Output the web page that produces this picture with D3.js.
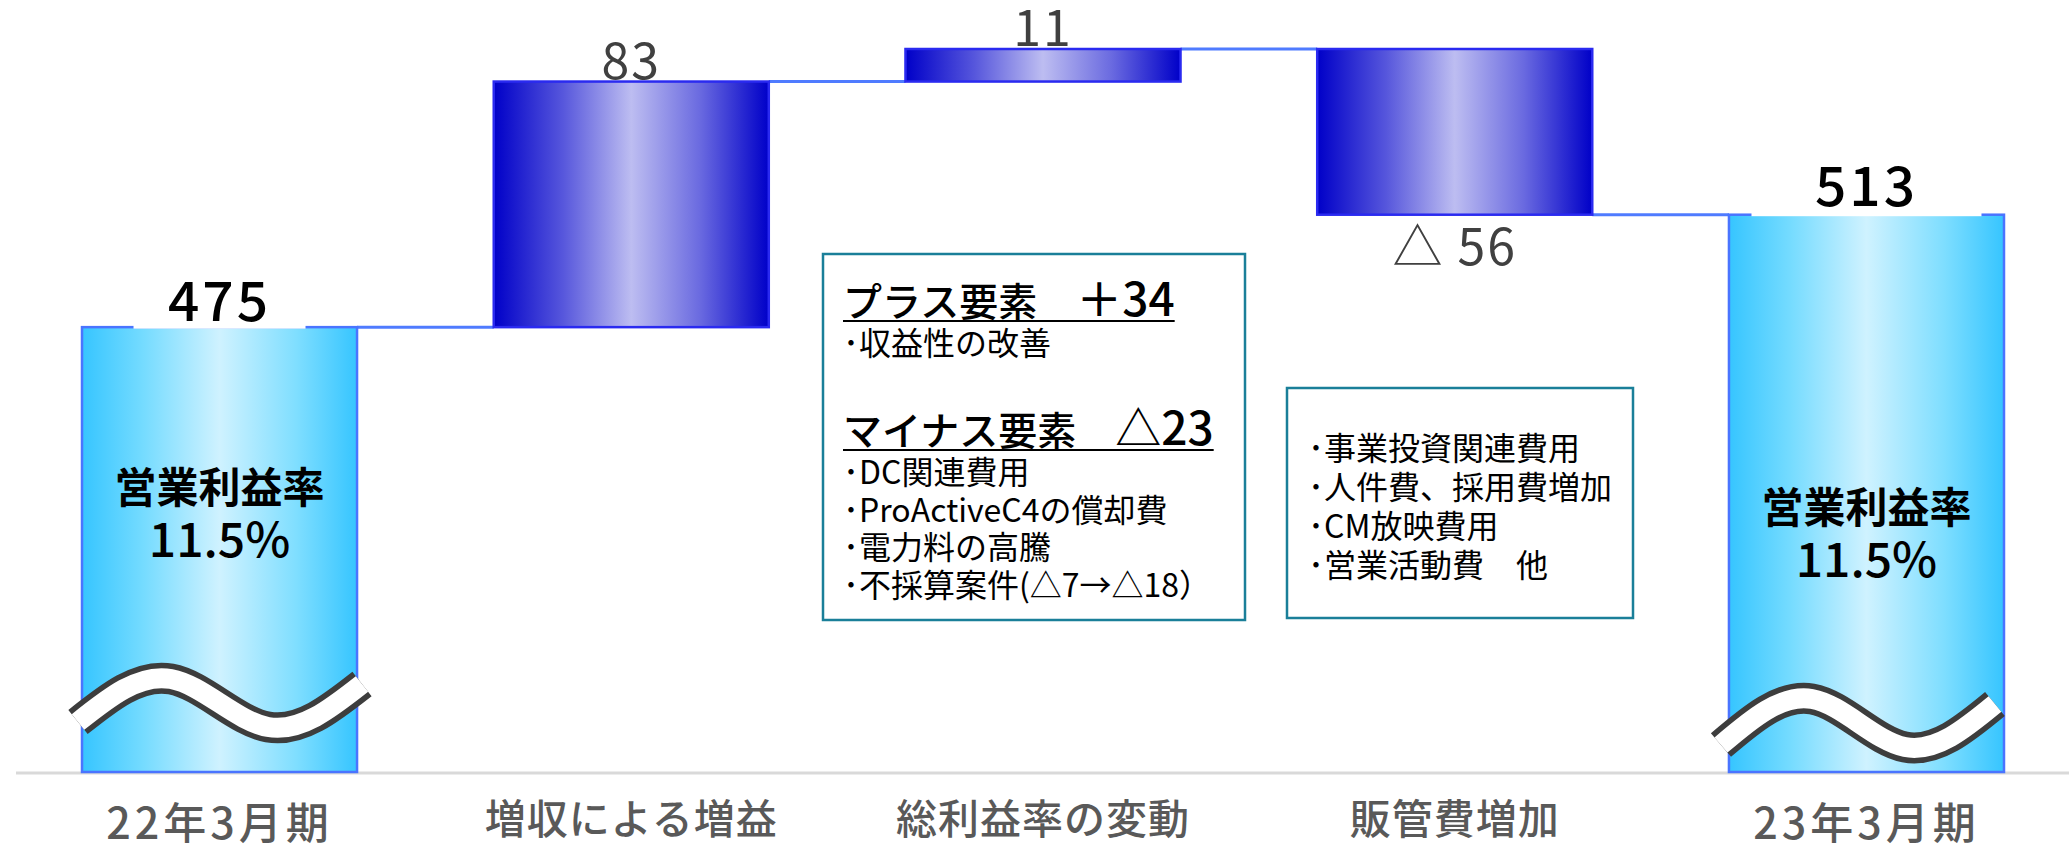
<!DOCTYPE html>
<html>
<head>
<meta charset="utf-8">
<script src="https://cdn.jsdelivr.net/npm/d3@7"></script>
<style>
  html, body { margin: 0; padding: 0; background: #ffffff; }
  svg { display: block; font-family: "Noto Sans CJK JP", "Noto Sans", sans-serif; }
</style>
</head>
<body>
<svg id="chart" width="2069" height="850"></svg>
<script>
// ---------------- data ----------------
const categories = ["22年3月期", "増収による増益", "総利益率の変動", "販管費増加", "23年3月期"];
const values = [475, 83, 11, -56, 513];
const barTypes = ["total", "delta", "delta", "delta", "total"];
const valueLabels = ["475", "83", "11", "△ 56", "513"];
const axisFloor = 325;               // value at the (broken) baseline
const marginTitle = "営業利益率";
const marginValues = ["11.5%", null, null, null, "11.5%"];
const plusHeading = ["プラス要素　", "＋34"];
const plusItems = ["収益性の改善"];
const minusHeading = ["マイナス要素　", "△23"];
const minusItems = ["DC関連費用", "ProActiveC4の償却費", "電力料の高騰", "不採算案件(△7→△18）"];
const sgaItems = ["事業投資関連費用", "人件費、採用費増加", "CM放映費用", "営業活動費　他"];

// ---------------- layout ----------------
const svg = d3.select("#chart");
const W = 2069, H = 850;
const baseY = 772;

// waterfall running totals
let run = 0;
const bars = categories.map((c, i) => {
  let start, end;
  if (barTypes[i] === "total") {
    start = axisFloor; end = values[i]; run = values[i];
  } else {
    start = run; end = run + values[i]; run = end;
  }
  return { cat: c, i, type: barTypes[i], start, end, lo: Math.min(start, end), hi: Math.max(start, end), v: values[i] };
});
const maxTop = d3.max(bars, d => d.hi);

const x = d3.scaleBand().domain(categories).range([82, 2004]).paddingInner(0.332).paddingOuter(0);
const y = d3.scaleLinear().domain([axisFloor, maxTop]).range([baseY - 1, 49]);

// gradients
const defs = svg.append("defs");
function grad(id, stops) {
  const g = defs.append("linearGradient").attr("id", id).attr("x1", "0%").attr("x2", "100%").attr("y1", "0%").attr("y2", "0%");
  stops.forEach(s => g.append("stop").attr("offset", s[0]).attr("stop-color", s[1]));
}
grad("gTotal", [[0, "#36c5ff"], [0.22, "#74dbff"], [0.5, "#cff2ff"], [0.78, "#7fdeff"], [1, "#36c5ff"]]);
grad("gDelta", [[0, "#0000c8"], [0.25, "#5656dc"], [0.5, "#bdbdf1"], [0.75, "#6a6ae0"], [1, "#0000c8"]]);

// axis baseline
svg.append("line").attr("x1", 16).attr("x2", W).attr("y1", baseY + 1).attr("y2", baseY + 1)
  .attr("stroke", "#d9d9d9").attr("stroke-width", 3);

// connectors
const conn = svg.append("g");
for (let i = 0; i < bars.length - 1; i++) {
  const a = bars[i], b = bars[i + 1];
  conn.append("line")
    .attr("x1", x(a.cat) + x.bandwidth()).attr("x2", x(b.cat))
    .attr("y1", y(a.end)).attr("y2", y(a.end))
    .attr("stroke", "#4f7bff").attr("stroke-width", 3);
}

// bars
svg.append("g").selectAll("rect").data(bars).join("rect")
  .attr("x", d => x(d.cat))
  .attr("y", d => y(d.hi))
  .attr("width", x.bandwidth())
  .attr("height", d => d.type === "total" ? baseY - y(d.hi) : y(d.lo) - y(d.hi))
  .attr("fill", d => d.type === "total" ? "url(#gTotal)" : "url(#gDelta)")
  .attr("stroke", d => d.type === "total" ? "#4a74ff" : "#2a2af0")
  .attr("stroke-width", 2.5);

// break symbols on total bars
const waveShapes = {
  0: [[-4, -50], [89, -93], [186, -45], [280, -88]],
  4: [[-8, -27], [83, -73], [176, -25], [266, -68]]
};
const waveLine = d3.line().curve(d3.curveNatural);
bars.filter(d => d.type === "total").forEach(d => {
  const x0 = x(d.cat);
  const pts = waveShapes[d.i].map(p => [x0 + p[0], baseY + p[1]]);
  const path = waveLine(pts);
  svg.append("path").attr("d", path).attr("fill", "none").attr("stroke", "#3d3d3d").attr("stroke-width", 31).attr("stroke-linecap", "butt");
  svg.append("path").attr("d", path).attr("fill", "none").attr("stroke", "#ffffff").attr("stroke-width", 20).attr("stroke-linecap", "butt");
});

// value labels
bars.forEach(d => {
  const cx = x(d.cat) + x.bandwidth() / 2;
  if (d.type === "total") {
    const top = y(d.hi);
    const off = d.i === 0 ? 6 : 9;
    const bw = d.i === 0 ? 172 : 230;
    svg.append("rect").attr("x", cx - bw / 2).attr("y", top - 52).attr("width", bw).attr("height", 53.5).attr("fill", "#ffffff");
    svg.append("text").attr("x", cx).attr("y", top - off).attr("text-anchor", "middle")
      .attr("font-size", 55).attr("font-weight", 500).attr("letter-spacing", 3).attr("fill", "#000000")
      .text(valueLabels[d.i]);
  } else if (d.v >= 0) {
    svg.append("text").attr("x", cx).attr("y", y(d.hi) - 3).attr("text-anchor", "middle")
      .attr("font-size", 50).attr("fill", "#404040").attr("letter-spacing", 2)
      .text(valueLabels[d.i]);
  } else {
    svg.append("text").attr("x", cx).attr("y", y(d.lo) + 50).attr("text-anchor", "middle")
      .attr("font-size", 50).attr("fill", "#404040").attr("letter-spacing", 2)
      .text(valueLabels[d.i]);
  }
});

// margin labels inside total bars
const marginBase = { 0: 503, 4: 523 };
bars.forEach(d => {
  if (marginValues[d.i] == null) return;
  const cx = x(d.cat) + x.bandwidth() / 2;
  const b = marginBase[d.i];
  svg.append("text").attr("x", cx).attr("y", b).attr("text-anchor", "middle")
    .attr("font-size", 42).attr("font-weight", 700).attr("fill", "#000").text(marginTitle);
  svg.append("text").attr("x", cx).attr("y", b + 54).attr("text-anchor", "middle")
    .attr("font-size", 48).attr("font-weight", 500).attr("fill", "#000").text(marginValues[d.i]);
});

// category labels
svg.append("g").selectAll("text").data(categories).join("text")
  .attr("x", d => x(d) + x.bandwidth() / 2)
  .attr("y", (d, i) => barTypes[i] === "total" ? 839 : 834)
  .attr("text-anchor", "middle")
  .attr("font-size", (d, i) => barTypes[i] === "total" ? 43 : 41)
  .attr("font-weight", 500)
  .attr("letter-spacing", (d, i) => barTypes[i] === "total" ? 4 : 1)
  .attr("fill", "#595959")
  .text(d => d);

// ---------------- annotation boxes ----------------
const boxStroke = "#1a7f99";
// box 1 (gross margin change)
svg.append("rect").attr("x", 823).attr("y", 254).attr("width", 422).attr("height", 366)
  .attr("fill", "#fff").attr("stroke", boxStroke).attr("stroke-width", 2.5);

function heading(parts, x0, yb) {
  const t = svg.append("text").attr("x", x0).attr("y", yb).attr("fill", "#000").attr("font-weight", 500);
  t.append("tspan").attr("font-size", 39).text(parts[0]);
  t.append("tspan").attr("font-size", 46).text(parts[1]);
  const w = t.node().getComputedTextLength();
  svg.append("line").attr("x1", x0).attr("x2", x0 + w).attr("y1", yb + 5).attr("y2", yb + 5)
    .attr("stroke", "#000").attr("stroke-width", 2);
}
function items(list, x0, y0, step) {
  list.forEach((s, k) => {
    svg.append("text").attr("x", x0).attr("y", y0 + k * step).attr("font-size", 32).attr("fill", "#000")
      .text("･" + s);
  });
}
heading(plusHeading, 843, 316);
items(plusItems, 843, 355, 37.5);
heading(minusHeading, 843, 445);
items(minusItems, 843, 484, 37.5);

// box 2 (SG&A)
svg.append("rect").attr("x", 1287).attr("y", 388).attr("width", 346).attr("height", 230)
  .attr("fill", "#fff").attr("stroke", boxStroke).attr("stroke-width", 2.5);
items(sgaItems, 1308, 460, 39);
</script>
</body>
</html>
